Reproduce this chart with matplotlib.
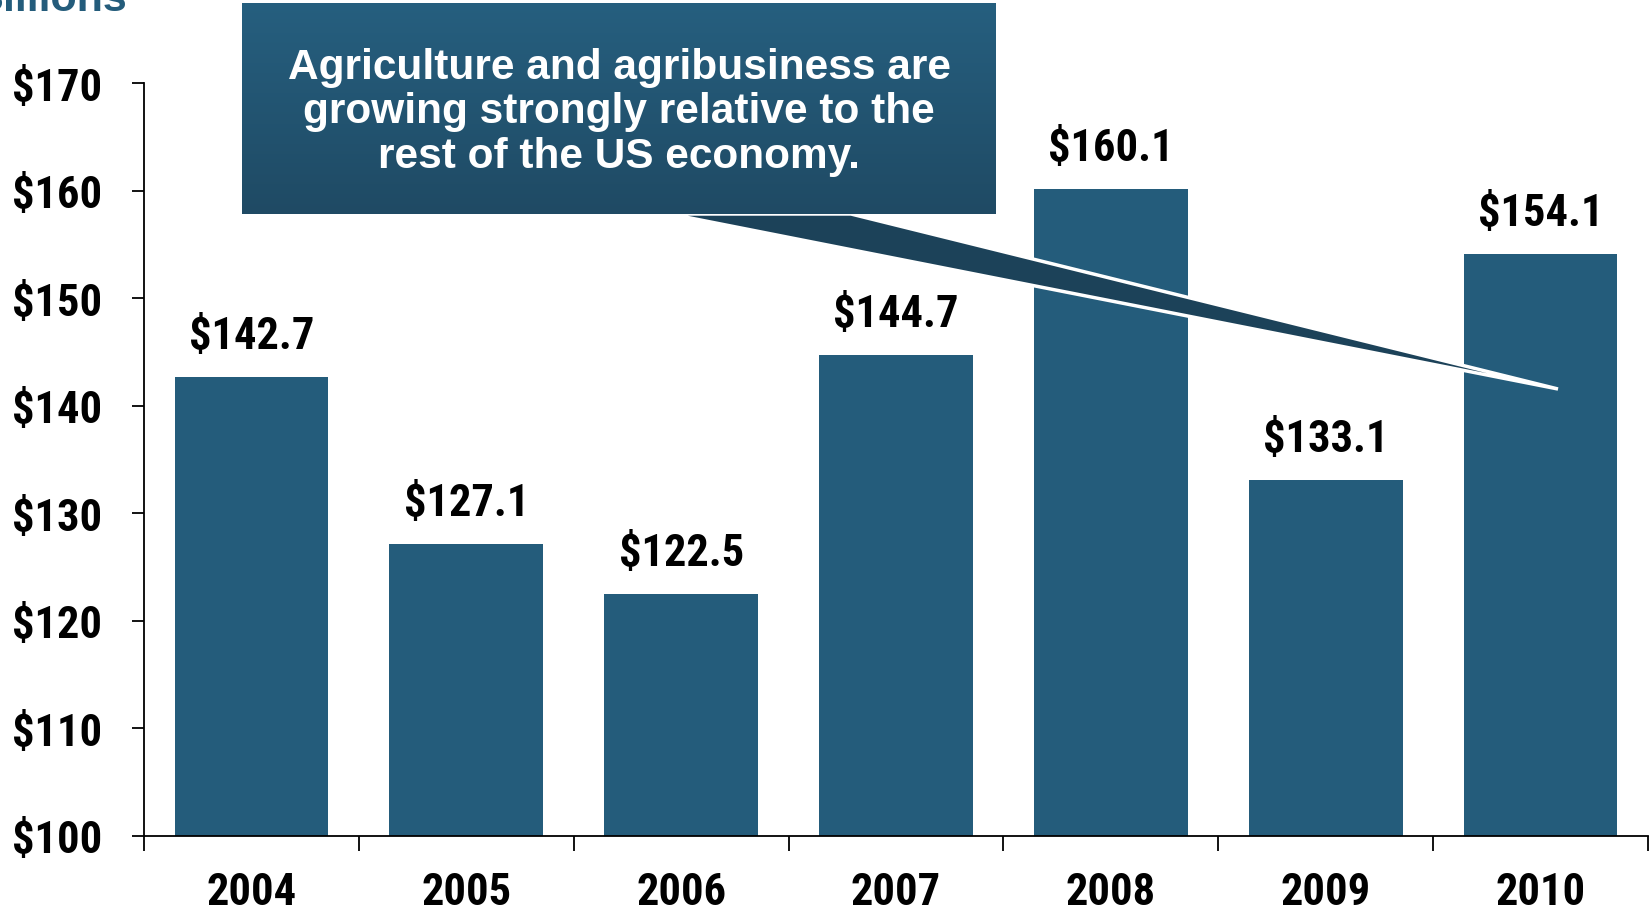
import matplotlib
matplotlib.use("Agg")
import matplotlib.pyplot as plt
import numpy as np
from matplotlib import font_manager
from matplotlib.font_manager import FontProperties
from matplotlib.patches import Polygon, Rectangle
from matplotlib.colors import LinearSegmentedColormap

# Data
years = ["2004", "2005", "2006", "2007", "2008", "2009", "2010"]
values = [142.7, 127.1, 122.5, 144.7, 160.1, 133.1, 154.1]
value_labels = ["$142.7", "$127.1", "$122.5", "$144.7", "$160.1", "$133.1", "$154.1"]
y_ticks = [100, 110, 120, 130, 140, 150, 160, 170]
y_tick_labels = ["$100", "$110", "$120", "$130", "$140", "$150", "$160", "$170"]
unit_label = "Billions"
callout_text = ("Agriculture and agribusiness are\n"
                "growing strongly relative to the\n"
                "rest of the US economy.")

BAR = "#245c7b"
TAIL = "#1c4259"


def condensed_bold_file():
    """Find a bold condensed/narrow sans font file among installed fonts."""
    prefs = ["liberation sans narrow", "arial narrow", "roboto condensed",
             "dejavu sans condensed", "open sans condensed", "noto sans condensed"]
    cands = []
    for f in font_manager.fontManager.ttflist:
        name = f.name.lower()
        fn = f.fname.lower()
        is_narrow = ("narrow" in name or "condensed" in name or "narrow" in fn
                     or "condensed" in fn or f.stretch in ("condensed", "semi-condensed"))
        if not is_narrow:
            continue
        w = f.weight if isinstance(f.weight, int) else (700 if "bold" in str(f.weight) else 400)
        if w < 600 or "italic" in fn or "oblique" in fn or f.style != "normal":
            continue
        rank_pen = 1 if ("extra" in fn or "semi" in fn or "black" in fn) else 0
        rank = len(prefs)
        for i, p in enumerate(prefs):
            if p in name or p.replace(" ", "") in fn.replace("-", "").replace("_", ""):
                rank = i
                break
        cands.append((rank, rank_pen, f.fname))
    if not cands:
        return None
    cands.sort()
    return cands[0][2]


narrow_file = condensed_bold_file()


def narrow(size):
    if narrow_file:
        return FontProperties(fname=narrow_file, size=size)
    return FontProperties(family="Liberation Sans", weight="bold", size=size * 0.85)


LABEL_SIZE = 32

W, H = 1651, 912
fig = plt.figure(figsize=(W / 100, H / 100), dpi=100)
fig.patch.set_facecolor("white")

ax = fig.add_axes([144 / W, 1 - 837 / H, (1648 - 144) / W, (837 - 84) / H])
x = np.arange(len(years))
ax.bar(x, values, width=0.716, color=BAR, zorder=2)

for xi, v, lab in zip(x, values, value_labels):
    ax.annotate(lab, xy=(xi, v), xytext=(0, 21), textcoords="offset points",
                ha="center", va="baseline", fontproperties=narrow(LABEL_SIZE), color="black")

ax.set_xlim(-0.5, len(years) - 0.5)
ax.set_ylim(100, 170)
ax.set_yticks(y_ticks)
ax.set_yticklabels(y_tick_labels, fontproperties=narrow(LABEL_SIZE))
ax.tick_params(axis="y", direction="out", length=8.6, width=1.3, pad=21.5, colors="black")

# category boundaries carry tick marks, centers carry the year labels
ax.set_xticks(np.arange(-0.5, len(years), 1.0))
ax.set_xticklabels([])
ax.set_xticks(x, minor=True)
ax.set_xticklabels(years, minor=True, fontproperties=narrow(LABEL_SIZE))
ax.tick_params(axis="x", which="major", direction="out", length=11, width=1.3)
ax.tick_params(axis="x", which="minor", length=0, pad=25)

for s in ["top", "right"]:
    ax.spines[s].set_visible(False)
for s in ["left", "bottom"]:
    ax.spines[s].set_linewidth(1.3)
    ax.spines[s].set_color("black")

# overlay in pixel space for the callout and unit label
ov = fig.add_axes([0, 0, 1, 1], zorder=5)
ov.axis("off")
ov.patch.set_alpha(0)

tail = Polygon([(670, 215), (851, 215), (1558, 390)], closed=True,
               facecolor=TAIL, edgecolor="white", linewidth=2.5, joinstyle="miter", zorder=1)
ov.add_patch(tail)

bx0, bx1, by0, by1 = 242, 996, 4, 215
cmap = LinearSegmentedColormap.from_list("box", ["#265f7f", "#1f4a64"])
grad = np.linspace(0, 1, 256).reshape(-1, 1)
im = ov.imshow(grad, cmap=cmap, extent=(bx0, bx1, by1, by0), aspect="auto", zorder=2,
               interpolation="bilinear")
clip = Rectangle((bx0, by0), bx1 - bx0, by1 - by0, transform=ov.transData)
im.set_clip_path(clip)
ov.set_xlim(0, W)
ov.set_ylim(H, 0)

ov.text((bx0 + bx1) / 2, 112.5, callout_text, ha="center", va="center",
        fontsize=30.5, fontweight="bold", family="Liberation Sans", color="white",
        linespacing=1.16, zorder=3)

ov.text(127, 11, unit_label, ha="right", va="baseline", fontsize=31,
        fontweight="bold", family="Liberation Sans", color="#245c7b", zorder=3)

fig.savefig("out.png", dpi=100)
